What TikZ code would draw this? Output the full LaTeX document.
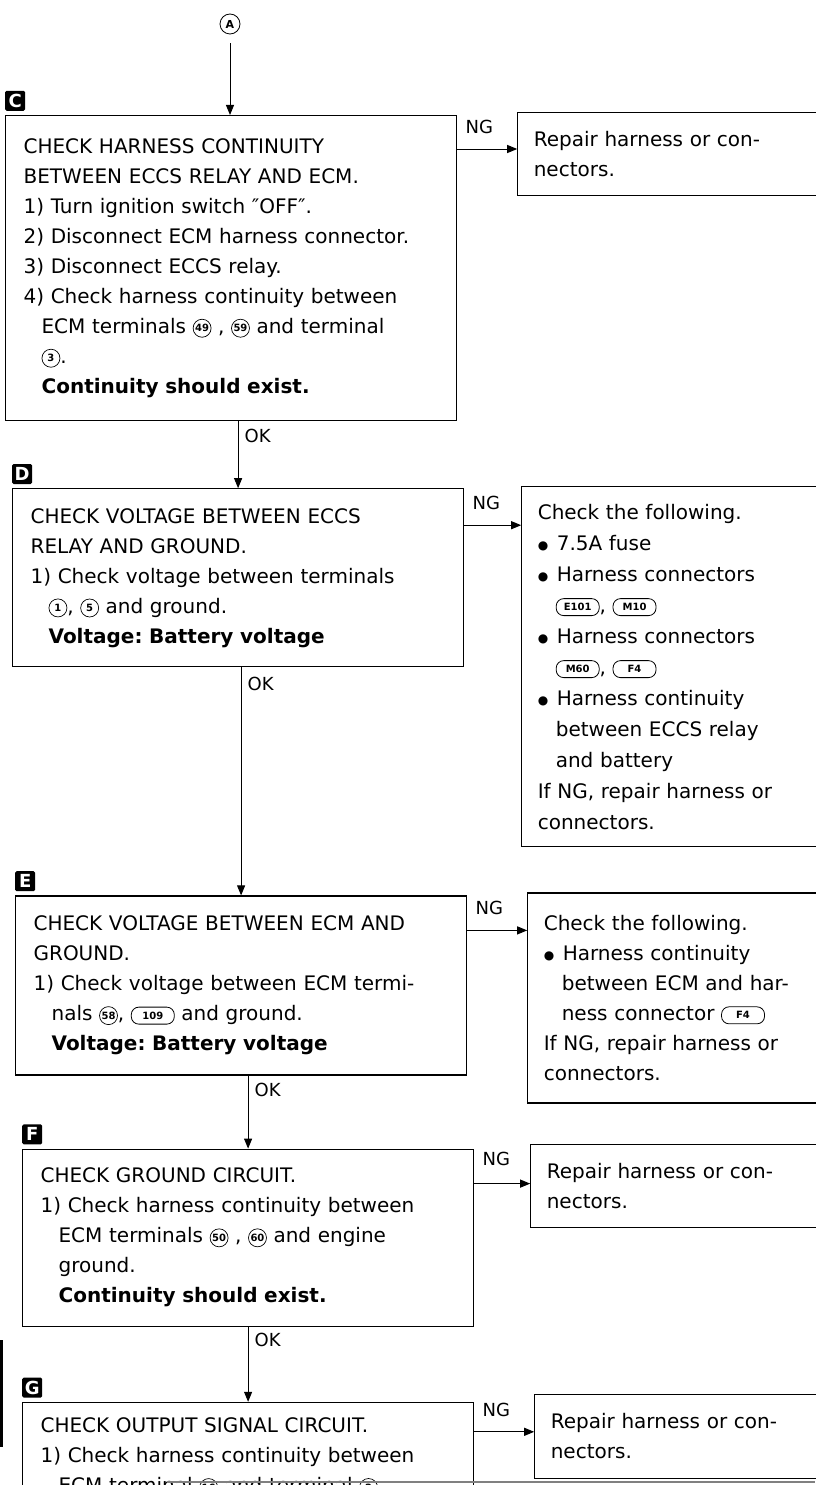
\documentclass[tikz,border=0pt]{standalone}
\usepackage{fontspec}
\setmainfont{DejaVu Sans}
\usetikzlibrary{arrows.meta, positioning}

% terminal numbers in circles, harness connectors in rounded boxes
\newcommand{\termno}[1]{\tikz[baseline={([yshift=-1.5pt]tn.base)}]\node[circle, draw, line width=0.7pt, minimum size=18pt, inner sep=0pt, font=\bfseries\fontsize{10}{10}\selectfont] (tn) {#1};}
\newcommand{\connbox}[1]{\tikz[baseline={([yshift=-1.5pt]cb.base)}]\node[draw, rounded corners=7.5pt, line width=0.8pt, minimum width=43pt, minimum height=17pt, inner sep=1pt, font=\bfseries\fontsize{10}{10}\selectfont] (cb) {#1};}
\newcommand{\contline}{\hspace*{18pt}}
\newcommand{\bulitem}{\makebox[19pt][l]{\raisebox{1pt}{\fontsize{12}{12}\selectfont ●}}}

\begin{document}
\frenchspacing
\begin{tikzpicture}[x=1pt, y=1pt,
        box/.style={rectangle, draw, line width=1.2pt, text width=415pt, inner xsep=18pt, inner ysep=6pt, align=left, font=\fontsize{20}{30}\selectfont},
        rbox/.style={box, text width=300pt, inner xsep=16pt},
        tag/.style={rectangle, fill=black, text=white, rounded corners=1.5pt, minimum size=20pt, inner sep=0pt, font=\bfseries\fontsize{18}{18}\selectfont},
        lbl/.style={inner sep=3pt, font=\fontsize{18}{18}\selectfont},
        arrow/.style={-{Triangle[length=10pt, width=8pt]}, line width=1pt}
    ]
    \useasboundingbox (0,0) rectangle (815,-1485);

    % Start from A
    \node[circle, draw, line width=0.8pt, minimum size=20pt, inner sep=0pt, font=\bfseries\fontsize{11}{11}\selectfont] (conA) at (230,-24) {A};

    % C
    \node[box, minimum height=305pt, anchor=north west] (boxC) at (5,-115) {CHECK HARNESS CONTINUITY\\
        BETWEEN ECCS RELAY AND ECM.\\
        1) Turn ignition switch ″OFF″.\\
        2) Disconnect ECM harness connector.\\
        3) Disconnect ECCS relay.\\
        4) Check harness continuity between\\
        \contline ECM terminals \termno{49} , \termno{59} and terminal\\
        \contline \termno{3}.\\
        \contline\textbf{Continuity should exist.}};
    \node[tag, above right=4pt and 0pt of boxC.north west] (tagC) {C};
    \node[rbox, minimum height=83pt, right=60pt of boxC.north east, anchor=north west, yshift=3pt] (fixC) {Repair harness or con-\\nectors.};

    % D
    \node[box, minimum height=178pt, below=67pt of boxC, xshift=7pt] (boxD) {CHECK VOLTAGE BETWEEN ECCS\\
        RELAY AND GROUND.\\
        1) Check voltage between terminals\\
        \contline \termno{1}, \termno{5} and ground.\\
        \contline\textbf{Voltage: Battery voltage}};
    \node[tag, above right=4pt and 0pt of boxD.north west] (tagD) {D};
    \node[rbox, font=\fontsize{20}{31}\selectfont, minimum height=360pt, right=57pt of boxD.north east, anchor=north west, yshift=2pt] (fixD) {Check the following.\\
        \bulitem 7.5A fuse\\
        \bulitem Harness connectors\\
        \contline\connbox{E101}, \connbox{M10}\\
        \bulitem Harness connectors\\
        \contline\connbox{M60}, \connbox{F4}\\
        \bulitem Harness continuity\\
        \contline between ECCS relay\\
        \contline and battery\\
        If NG, repair harness or\\
        connectors.};

    % E
    \node[box, minimum height=179pt, below=228pt of boxD, xshift=3pt] (boxE) {CHECK VOLTAGE BETWEEN ECM AND\\
        GROUND.\\
        1) Check voltage between ECM termi-\\
        \contline nals \termno{58}, \connbox{109} and ground.\\
        \contline\textbf{Voltage: Battery voltage}};
    \node[tag, above right=4pt and 0pt of boxE.north west] (tagE) {E};
    \node[rbox, minimum height=210pt, right=60pt of boxE.north east, anchor=north west, yshift=3pt] (fixE) {Check the following.\\
        \bulitem Harness continuity\\
        \contline between ECM and har-\\
        \contline ness connector \connbox{F4}\\
        If NG, repair harness or\\
        connectors.};

    % F
    \node[box, minimum height=177pt, below=73pt of boxE, xshift=7pt] (boxF) {CHECK GROUND CIRCUIT.\\
        1) Check harness continuity between\\
        \contline ECM terminals \termno{50} , \termno{60} and engine\\
        \contline ground.\\
        \contline\textbf{Continuity should exist.}};
    \node[tag, above right=4pt and 0pt of boxF.north west] (tagF) {F};
    \node[rbox, minimum height=83pt, right=56pt of boxF.north east, anchor=north west, yshift=5pt] (fixF) {Repair harness or con-\\nectors.};

    % G
    \node[box, minimum height=110pt, below=75pt of boxF] (boxG) {CHECK OUTPUT SIGNAL CIRCUIT.\\
        1) Check harness continuity between\\
        \contline ECM terminal \termno{16} and terminal \termno{2}};
    \node[tag, above right=4pt and 0pt of boxG.north west] (tagG) {G};
    \node[rbox, minimum height=84pt, right=60pt of boxG.north east, anchor=north west, yshift=8pt] (fixG) {Repair harness or con-\\nectors.};

    % OK arrows
    \draw[arrow, shorten <=9pt] (conA.south) -- (conA.south |- boxC.north);
    \draw[arrow] (boxC.south -| boxD.north) -- node[lbl, pos=0, anchor=north west, xshift=3pt, yshift=-4pt] (okC) {OK} (boxD.north);
    \draw[arrow] (boxD.south -| boxE.north) -- node[lbl, pos=0, anchor=north west, xshift=3pt, yshift=-6pt] (okD) {OK} (boxE.north);
    \draw[arrow] (boxE.south -| boxF.north) -- node[lbl, pos=0, anchor=north west, xshift=3pt, yshift=-4pt] (okE) {OK} (boxF.north);
    \draw[arrow] (boxF.south -| boxG.north) -- node[lbl, pos=0, anchor=north west, xshift=3pt, yshift=-3pt] (okF) {OK} (boxG.north);

    % NG arrows
    \coordinate (ngC) at ([yshift=-34pt]boxC.north east);
    \coordinate (ngD) at ([yshift=-37pt]boxD.north east);
    \coordinate (ngE) at ([yshift=-35pt]boxE.north east);
    \coordinate (ngF) at ([yshift=-35pt]boxF.north east);
    \coordinate (ngG) at ([yshift=-30pt]boxG.north east);
    \draw[arrow] (ngC) -- node[lbl, pos=0, anchor=south west, xshift=5pt, yshift=12pt] (ngCl) {NG} (ngC -| fixC.west);
    \draw[arrow] (ngD) -- node[lbl, pos=0, anchor=south west, xshift=5pt, yshift=12pt] (ngDl) {NG} (ngD -| fixD.west);
    \draw[arrow] (ngE) -- node[lbl, pos=0, anchor=south west, xshift=5pt, yshift=12pt] (ngEl) {NG} (ngE -| fixE.west);
    \draw[arrow] (ngF) -- node[lbl, pos=0, anchor=south west, xshift=5pt, yshift=14pt] (ngFl) {NG} (ngF -| fixF.west);
    \draw[arrow] (ngG) -- node[lbl, pos=0, anchor=south west, xshift=5pt, yshift=12pt] (ngGl) {NG} (ngG -| fixG.west);

    % page edges of the scan
    \draw[line width=3pt] (1.5,-1340) -- (1.5,-1447);
    \draw[gray, line width=1.5pt] (167,-1482) -- (815,-1482);
\end{tikzpicture}
\end{document}
